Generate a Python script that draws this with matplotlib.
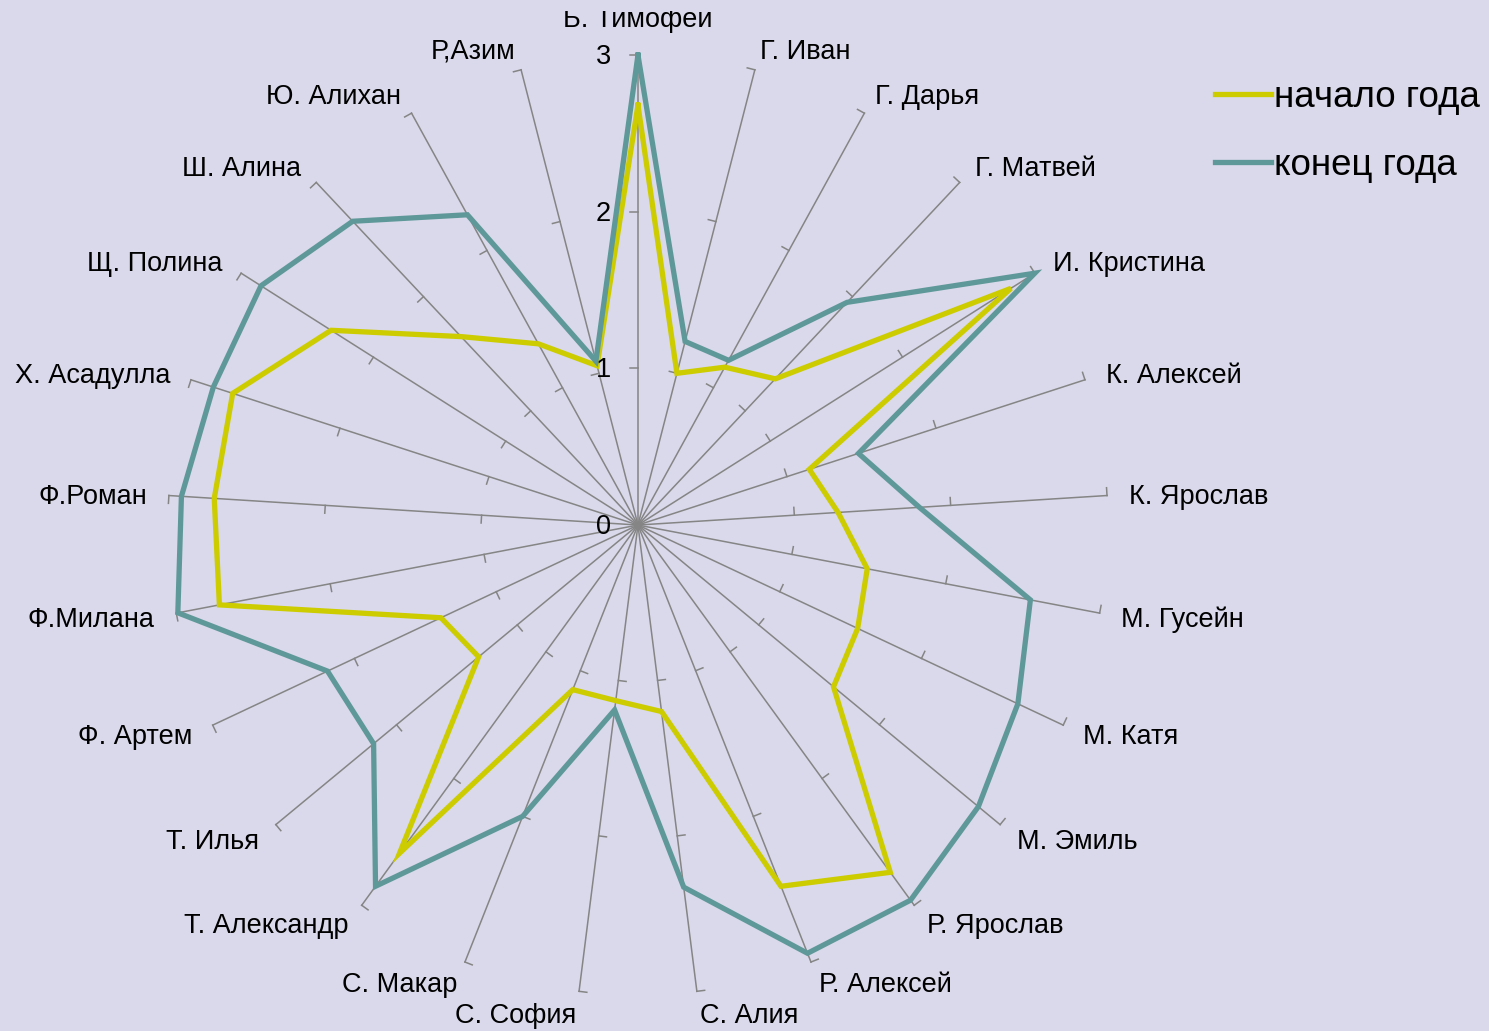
import numpy as np
import matplotlib
matplotlib.use("Agg")
import matplotlib.pyplot as plt
from matplotlib.transforms import offset_copy, Bbox

plt.rcParams['font.family'] = ['Liberation Sans', 'DejaVu Sans']

names = ["Б. Тимофей", "Г. Иван", "Г. Дарья", "Г. Матвей", "И. Кристина",
         "К. Алексей", "К. Ярослав", "М. Гусейн", "М. Катя", "М. Эмиль",
         "Р. Ярослав", "Р. Алексей", "С. Алия", "С. София", "С. Макар",
         "Т. Александр", "Т. Илья", "Ф. Артем", "Ф.Милана", "Ф.Роман",
         "Х. Асадулла", "Щ. Полина", "Ш. Алина", "Ю. Алихан", "Р,Азим"]
start_year = [2.68, 1.0, 1.15, 1.28, 2.82, 1.15, 1.28, 1.49, 1.55, 1.62,
              2.74, 2.48, 1.2, 1.13, 1.13, 2.59, 1.32, 1.39, 2.72, 2.71,
              2.72, 2.32, 1.65, 1.32, 1.05]
end_year = [3.0, 1.21, 1.2, 1.95, 3.0, 1.48, 1.8, 2.55, 2.68, 2.82,
            2.96, 2.94, 2.33, 1.19, 2.0, 2.85, 2.19, 2.19, 2.99, 2.92,
            2.85, 2.85, 2.66, 2.26, 1.08]
r_ticks = [0, 1, 2, 3]

bg = "#d9d9eb"
gray = "#858585"
yellow = "#cccc00"
teal = "#5f9898"

fig = plt.figure(figsize=(14.89, 10.31), dpi=100, facecolor=bg)
ax = fig.add_axes([0.1128, 0.0349, 0.6313, 0.9117], projection="polar")
ax.set_facecolor("none")
ax.set_theta_zero_location("N")
ax.set_theta_direction(-1)
ax.set_ylim(0, 3)
ax.set_xticks([])
ax.set_yticks([])
ax.grid(False)
ax.spines["polar"].set_visible(False)

n = len(names)
theta = np.arange(n) * 2 * np.pi / n

# spokes with small ticks on the counter-clockwise side
d = 0.05
for t in theta:
    ax.plot([t, t], [0, 3], color=gray, lw=1.1, clip_on=False, zorder=1)
    for r in r_ticks[1:]:
        ax.plot([t, t - np.arctan(d / r)], [r, np.hypot(r, d)],
                color=gray, lw=1.1, clip_on=False, zorder=1)

tt = np.append(theta, theta[0])
ax.plot(tt, start_year + start_year[:1], color=yellow, lw=3.8,
        label="начало года", clip_on=False, zorder=3, solid_joinstyle="miter")
ax.plot(tt, end_year + end_year[:1], color=teal, lw=3.8,
        label="конец года", clip_on=False, zorder=3, solid_joinstyle="miter")

# value labels next to the top spoke
trans = offset_copy(ax.transData, fig=fig, x=-27, y=-2, units="dots")
for r in r_ticks:
    ax.text(0, r, str(r), transform=trans, ha="right", va="center", fontsize=19.5)

# category labels
lab_trans = offset_copy(ax.transData, fig=fig, x=0, y=-3, units="dots")
for t, name in zip(theta, names):
    deg = np.degrees(t)
    if deg == 0:
        top = ax.text(t, 3.14, name, ha="center", va="bottom", fontsize=19.5)
        # the plot area cuts the top of this label
        top.set_clip_box(Bbox([[0, 0], [1489, 1031 - 11]]))
        top.set_clip_on(True)
    elif deg < 180:
        ax.text(t, 3.14, name, ha="left", va="center", fontsize=19.5,
                transform=lab_trans)
    else:
        ax.text(t, 3.14, name, ha="right", va="center", fontsize=19.5,
                transform=lab_trans)

fig.legend(loc="upper left", bbox_to_anchor=(0.794, 0.955), frameon=False,
           fontsize=26.5, handlelength=1.5, handletextpad=0.08, labelspacing=0.9)

fig.savefig("out.png", dpi=100, facecolor=bg)
